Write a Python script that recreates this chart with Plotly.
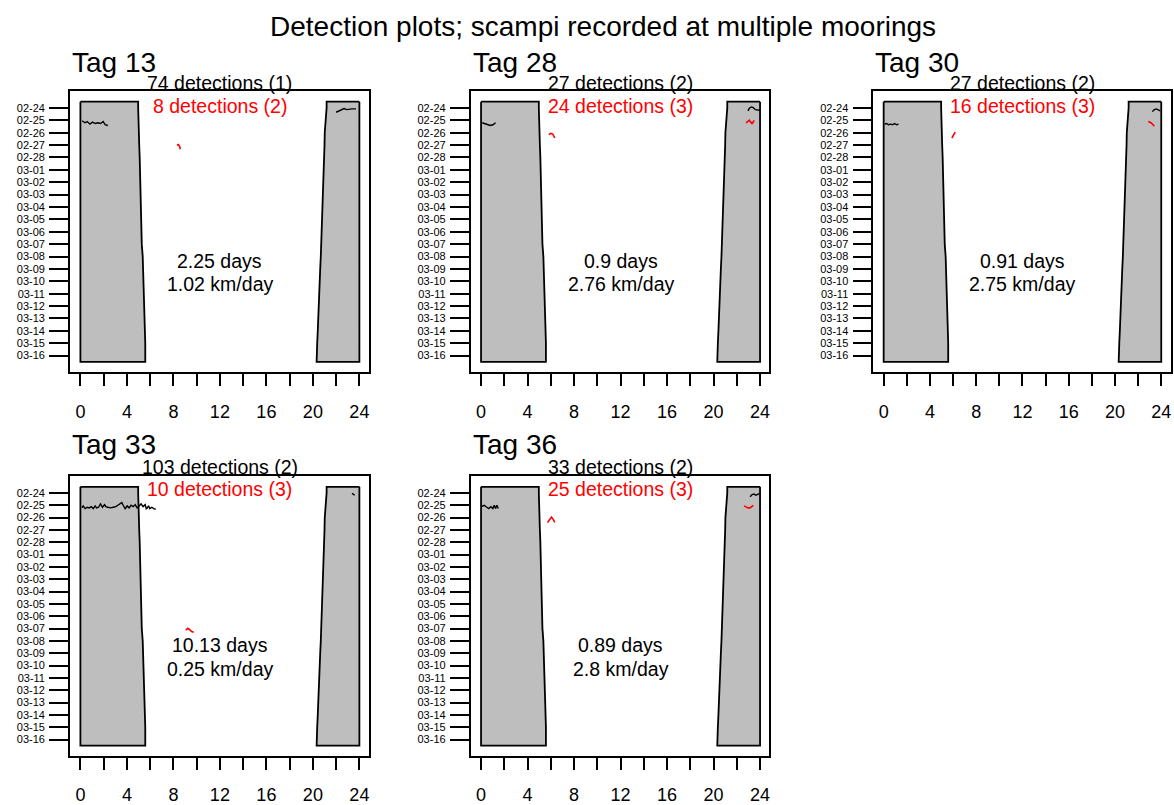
import plotly.graph_objects as go

W, H = 1174, 805

# ---------------- data ----------------
tags = ["Tag 13", "Tag 28", "Tag 30", "Tag 33", "Tag 36"]
black_labels = ["74 detections (1)", "27 detections (2)", "27 detections (2)",
                "103 detections (2)", "33 detections (2)"]
red_labels = ["8 detections (2)", "24 detections (3)", "16 detections (3)",
              "10 detections (3)", "25 detections (3)"]
days_text = ["2.25 days", "0.9 days", "0.91 days", "10.13 days", "0.89 days"]
speed_text = ["1.02 km/day", "2.76 km/day", "2.75 km/day", "0.25 km/day", "2.8 km/day"]

date_labels = ["02-24", "02-25", "02-26", "02-27", "02-28", "03-01", "03-02",
               "03-03", "03-04", "03-05", "03-06", "03-07", "03-08", "03-09",
               "03-10", "03-11", "03-12", "03-13", "03-14", "03-15", "03-16"]
hour_ticks = [0, 2, 4, 6, 8, 10, 12, 14, 16, 18, 20, 22, 24]

# sunrise / sunset (hour of day) for each date
sunrise = [4.97, 4.98, 5.0, 5.06, 5.1, 5.12, 5.14, 5.16, 5.22, 5.25, 5.26,
           5.28, 5.36, 5.4, 5.42, 5.44, 5.48, 5.52, 5.57, 5.58, 5.58]
sunset = [21.18, 21.08, 21.02, 21.0, 20.97, 20.92, 20.88, 20.85, 20.83, 20.8,
          20.76, 20.72, 20.68, 20.63, 20.6, 20.55, 20.5, 20.46, 20.42, 20.37, 20.32]

# detections: hour of day and day index (0 = 02-24); None separates segments
tag13_black_hour = [0.15, 0.39, 0.59, 0.82, 1.05, 1.27, 1.5, 1.73, 1.96, 2.13, 2.36, None,
                    22.0, 22.22, 22.45, 22.68, 22.91, 23.14, 23.37, 23.71]
tag13_black_day = [1.04, 1.2, 1.1, 1.31, 1.15, 1.26, 1.2, 1.26, 1.1, 1.36, 1.42, None,
                   0.35, 0.24, 0.19, 0.05, 0.14, 0.08, 0.08, 0.08]
tag13_red_hour = [8.31, 8.43, 8.54, 8.6]
tag13_red_day = [3.02, 2.96, 3.12, 3.34]

tag28_black_hour = [0.1, 0.33, 0.56, 0.79, 1.02, 1.25, None,
                    22.97, 23.08, 23.25, 23.42, 23.59, 23.82, 23.98]
tag28_black_day = [1.2, 1.26, 1.36, 1.42, 1.36, 1.2, None,
                   0.24, 0.03, -0.08, -0.02, 0.14, 0.19, 0.19]
tag28_red_hour = [5.83, 6.0, 6.17, 6.29, 6.34, None,
                  22.8, 22.97, 23.08, 23.19, 23.31, 23.42, 23.48]
tag28_red_day = [2.16, 2.06, 2.11, 2.32, 2.43, None,
                 1.2, 1.1, 0.99, 1.15, 1.26, 1.15, 0.99]

tag30_black_hour = [0.08, 0.25, 0.42, 0.6, 0.77, 0.94, 1.11, 1.29, None,
                    23.23, 23.4, 23.57, 23.75, 23.92]
tag30_black_day = [1.31, 1.26, 1.36, 1.31, 1.36, 1.26, 1.36, 1.31, None,
                   0.3, 0.14, 0.08, 0.19, 0.24]
tag30_red_hour = [5.9, 6.01, 6.18, None, 22.88, 23.11, 23.29, 23.4]
tag30_red_day = [2.43, 2.22, 1.95, None, 1.1, 1.2, 1.36, 1.47]

tag33_black_hour = [0.13, 0.24, 0.41, 0.59, 0.76, 0.93, 1.1, 1.27, 1.39, 1.56, 1.73,
                    1.9, 2.08, 2.19, 2.36, 2.59, 2.82, 3.05, 3.22, 3.39, 3.56, 3.68,
                    3.85, 4.02, 4.19, 4.36, 4.54, 4.71, 4.88, 5.05, 5.22, 5.39, 5.57,
                    5.68, 5.86, 5.97, 6.14, 6.31, 6.48, None, 23.37, 23.6]
tag33_black_day = [1.21, 1.05, 1.27, 1.16, 1.21, 1.11, 1.27, 1.05, 1.21, 1.16, 0.89,
                   1.16, 0.95, 1.11, 1.16, 1.21, 1.16, 1.11, 1.0, 0.89, 0.78, 1.0,
                   1.27, 1.05, 1.21, 1.0, 1.11, 0.95, 1.21, 1.05, 0.89, 1.11, 0.95,
                   1.32, 1.05, 1.27, 1.16, 1.27, 1.32, None, 0.03, 0.19]
tag33_red_hour = [9.06, 9.23, 9.4, 9.57, 9.75]
tag33_red_day = [11.14, 10.98, 11.09, 11.25, 11.3]

tag36_black_hour = [0.04, 0.27, 0.5, 0.67, 0.84, 1.02, 1.13, 1.25, 1.36, 1.48, None,
                    23.14, 23.31, 23.48, 23.65, 23.83, 23.98]
tag36_black_day = [1.11, 1.0, 1.16, 1.27, 1.11, 1.27, 1.0, 1.27, 1.0, 1.27, None,
                   0.3, 0.14, 0.09, 0.19, 0.09, 0.03]
tag36_red_hour = [5.72, 5.89, 6.06, 6.23, 6.34, None,
                  22.62, 22.79, 22.97, 23.14, 23.31, 23.42]
tag36_red_day = [2.39, 2.13, 1.96, 2.18, 2.39, None,
                 1.05, 1.16, 1.21, 1.21, 1.11, 1.0]

black_hours = [tag13_black_hour, tag28_black_hour, tag30_black_hour, tag33_black_hour, tag36_black_hour]
black_days = [tag13_black_day, tag28_black_day, tag30_black_day, tag33_black_day, tag36_black_day]
red_hours = [tag13_red_hour, tag28_red_hour, tag30_red_hour, tag33_red_hour, tag36_red_hour]
red_days = [tag13_red_day, tag28_red_day, tag30_red_day, tag33_red_day, tag36_red_day]

# ---------------- layout geometry (pixels) ----------------
col_x = [(70, 369), (471, 770), (874, 1171.5)]
row_y = [(92, 375), (480, 761.7)]
tag_y = [62.5, 447.8]
black_y = [83.3, 470.5]
red_y = [106.7, 493.0]
panels = [(0, 0), (0, 1), (0, 2), (1, 0), (1, 1)]

FONT = "Liberation Sans, Arial, sans-serif"
XR = [-0.9, 24.8]
YR = [21.34, -1.34]


def px(x):
    return x / W


def py(y):
    return 1 - y / H


fig = go.Figure()
annotations = []
layout = {}

days = list(range(len(sunrise)))
for i, (r, c) in enumerate(panels):
    ax = "" if i == 0 else str(i + 1)
    xa, ya = "x" + ax, "y" + ax
    x0, x1 = col_x[c]
    y0, y1 = row_y[r]
    layout["xaxis" + ax] = dict(
        domain=[px(x0), px(x1)], range=XR, anchor=ya,
        tickmode="array", tickvals=hour_ticks,
        ticktext=[str(h) if h % 4 == 0 else "" for h in hour_ticks],
        ticks="outside", ticklen=12, tickwidth=1.5, tickcolor="black",
        ticklabelstandoff=10,
        showline=True, mirror=True, linecolor="black", linewidth=1.5,
        showgrid=False, zeroline=False,
        tickfont=dict(family=FONT, size=18, color="black"))
    layout["yaxis" + ax] = dict(
        domain=[py(y1), py(y0)], range=YR, anchor=xa,
        tickmode="array", tickvals=days, ticktext=date_labels,
        ticks="outside", ticklen=19, tickwidth=1.5, tickcolor="black",
        ticklabelstandoff=2,
        showline=True, mirror=True, linecolor="black", linewidth=1.5,
        showgrid=False, zeroline=False,
        tickfont=dict(family=FONT, size=11, color="black"))

    # night polygons
    mx = [0, sunrise[0]] + sunrise + [sunrise[-1], 0, 0]
    my = [-0.5, -0.5] + days + [20.5, 20.5, -0.5]
    ex = [24, sunset[0]] + sunset + [sunset[-1], 24, 24]
    fig.add_trace(go.Scatter(x=mx, y=my, xaxis=xa, yaxis=ya, mode="lines",
                             fill="toself", fillcolor="#BEBEBE",
                             line=dict(color="black", width=1.8),
                             hoverinfo="skip", showlegend=False))
    fig.add_trace(go.Scatter(x=ex, y=my, xaxis=xa, yaxis=ya, mode="lines",
                             fill="toself", fillcolor="#BEBEBE",
                             line=dict(color="black", width=1.8),
                             hoverinfo="skip", showlegend=False))
    fig.add_trace(go.Scatter(x=black_hours[i], y=black_days[i], xaxis=xa, yaxis=ya,
                             mode="lines", line=dict(color="black", width=1.4),
                             connectgaps=False, showlegend=False))
    fig.add_trace(go.Scatter(x=red_hours[i], y=red_days[i], xaxis=xa, yaxis=ya,
                             mode="lines", line=dict(color="red", width=1.6),
                             connectgaps=False, showlegend=False))

    annotations.append(dict(text=tags[i], x=px(x0), y=py(tag_y[r]), xref="paper", yref="paper",
                            xanchor="left", yanchor="middle", showarrow=False,
                            font=dict(family=FONT, size=28, color="black")))
    annotations.append(dict(text=black_labels[i], x=12, y=py(black_y[r]), xref=xa, yref="paper",
                            xanchor="center", yanchor="middle", showarrow=False,
                            font=dict(family=FONT, size=19.5, color="black")))
    annotations.append(dict(text=red_labels[i], x=12, y=py(red_y[r]), xref=xa, yref="paper",
                            xanchor="center", yanchor="middle", showarrow=False,
                            font=dict(family=FONT, size=19.5, color="red")))
    annotations.append(dict(text=days_text[i], x=12, y=12.37, xref=xa, yref=ya,
                            xanchor="center", yanchor="middle", showarrow=False,
                            font=dict(family=FONT, size=19.5, color="black")))
    annotations.append(dict(text=speed_text[i], x=12, y=14.25, xref=xa, yref=ya,
                            xanchor="center", yanchor="middle", showarrow=False,
                            font=dict(family=FONT, size=19.5, color="black")))

annotations.append(dict(text="Detection plots; scampi recorded at multiple moorings",
                        x=px(603.5), y=py(27), xref="paper", yref="paper",
                        xanchor="center", yanchor="middle", showarrow=False,
                        font=dict(family=FONT, size=28, color="black")))

fig.update_layout(width=W, height=H, margin=dict(l=0, r=0, t=0, b=0),
                  paper_bgcolor="white", plot_bgcolor="white",
                  annotations=annotations, showlegend=False, **layout)

fig.write_html("out.html")
